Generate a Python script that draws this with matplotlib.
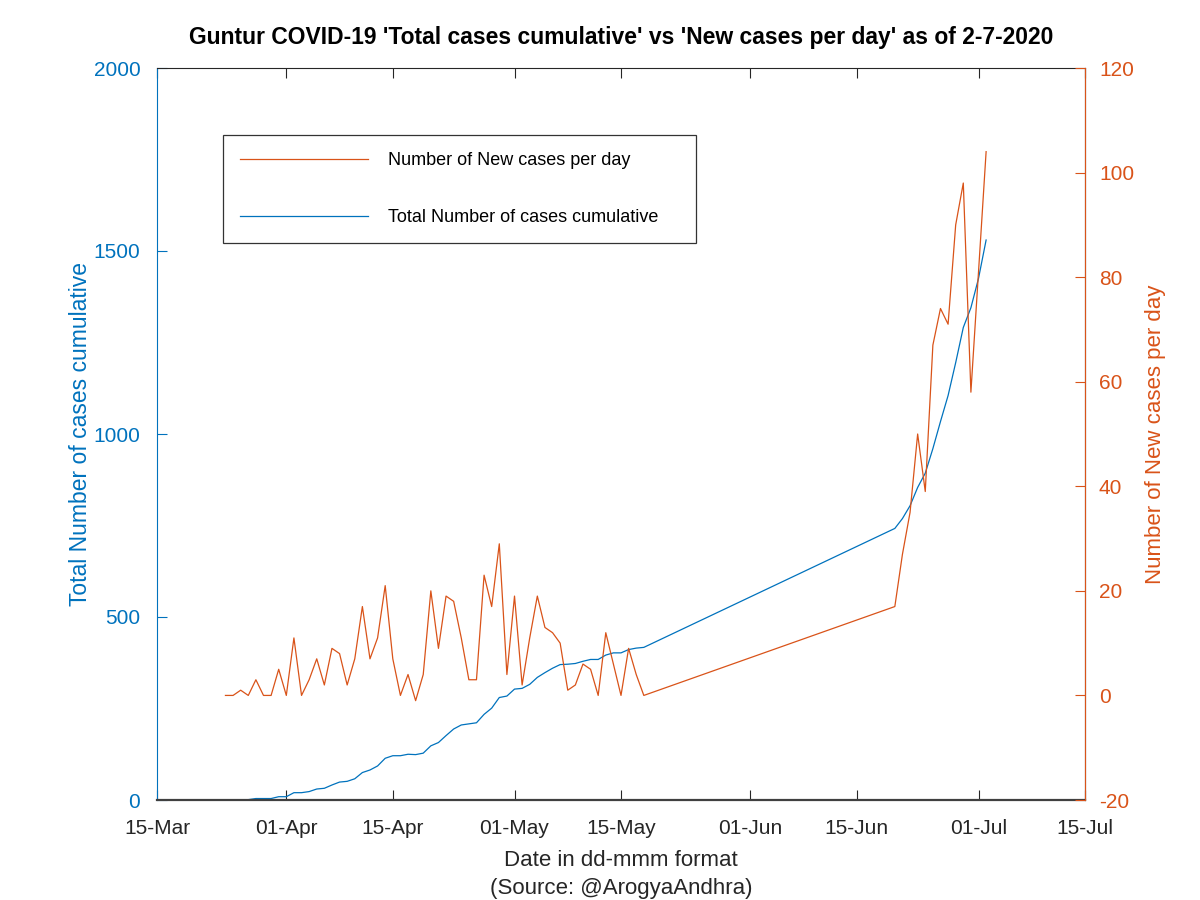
import numpy as np
import pandas as pd
import matplotlib
matplotlib.use('Agg')
import matplotlib.pyplot as plt
import matplotlib.dates as mdates

plt.rcParams['font.family'] = ['Liberation Sans', 'DejaVu Sans']
plt.rcParams['axes.unicode_minus'] = False

# daily data (gap between 18-May and 20-Jun in the source)
dates = (list(pd.date_range('2020-03-24', '2020-05-18', freq='D')) +
         list(pd.date_range('2020-06-20', '2020-07-02', freq='D')))

new_cases = [0, 0, 1, 0, 3, 0, 0, 5,
             0, 11, 0, 3, 7, 2, 9, 8, 2, 7,
             17, 7, 11, 21, 7, 0, 4, -1, 4, 20,
             9, 19, 18, 11, 3, 3, 23, 17, 29, 4,
             19, 2, 11, 19, 13, 12, 10, 1, 2, 6,
             5, 0, 12, 6, 0, 9, 4, 0,
             17, 27, 35, 50, 39, 67, 74, 71, 90, 98, 58, 81, 104]

total_cases = [0, 0, 1, 1, 4, 4, 4, 9,
               9, 20, 20, 23, 30, 32, 41, 49, 51, 58,
               75, 82, 93, 114, 121, 121, 125, 124, 128, 148,
               157, 176, 194, 205, 208, 211, 234, 251, 280, 284,
               303, 305, 316, 335, 348, 360, 370, 371, 373, 379,
               384, 384, 396, 402, 402, 411, 415, 417,
               742, 769, 804, 854, 893, 960, 1034, 1105, 1195, 1291, 1345, 1425, 1530]

tick_dates = ['2020-03-15', '2020-04-01', '2020-04-15', '2020-05-01', '2020-05-15',
              '2020-06-01', '2020-06-15', '2020-07-01', '2020-07-15']

blue = '#0072BD'
orange = '#D95319'

fig = plt.figure(figsize=(12, 9), dpi=100)
ax = fig.add_axes([157/1200, 100/900, 928/1200, 732/900])
ax2 = ax.twinx()

l1, = ax.plot(dates, total_cases, color=blue, lw=0.9, label='Total Number of cases cumulative')
l2, = ax2.plot(dates, new_cases, color=orange, lw=0.9, label='Number of New cases per day')

ax.set_xlim(pd.Timestamp('2020-03-15'), pd.Timestamp('2020-07-15'))
ax.set_ylim(0, 2000)
ax2.set_ylim(-20, 120)
ax.set_yticks([0, 500, 1000, 1500, 2000])
ax2.set_yticks(np.arange(-20, 121, 20))
ax.set_xticks(pd.to_datetime(tick_dates))
ax.xaxis.set_major_formatter(mdates.DateFormatter('%d-%b'))

fs = 15
ax.tick_params(axis='x', direction='in', length=7, top=True, labelsize=fs, colors='#262626', pad=14)
ax.tick_params(axis='y', direction='in', length=7, colors=blue, labelsize=fs, pad=12)
ax2.tick_params(axis='y', direction='in', length=7, colors=orange, labelsize=fs, pad=10)

ax.spines['left'].set_color(blue)
ax.spines['bottom'].set_color('#404040')
ax.spines['bottom'].set_linewidth(1.6)
ax.spines['top'].set_color('#262626')
ax2.spines['right'].set_color(orange)
ax2.spines['left'].set_visible(False)
ax2.spines['top'].set_visible(False)
ax2.spines['bottom'].set_visible(False)

ax.set_ylabel('Total Number of cases cumulative', color=blue, fontsize=16.5, labelpad=1)
ax2.set_ylabel('Number of New cases per day', color=orange, fontsize=16, labelpad=8)
ax.set_xlabel('Date in dd-mmm format\n(Source: @ArogyaAndhra)', fontsize=16, color='#262626',
              labelpad=8, linespacing=1.45)
ax.set_title("Guntur COVID-19 'Total cases cumulative' vs 'New cases per day' as of 2-7-2020",
             fontsize=16.5, fontweight='bold', pad=17)

leg = ax2.legend(handles=[l2, l1], loc='upper left',
                 bbox_to_anchor=(0.0711, 0.5, 0.5097, 0.4085), mode='expand',
                 fontsize=13, frameon=True, fancybox=False, edgecolor='black',
                 handlelength=7.1, handletextpad=1.1, labelspacing=2.2,
                 borderpad=0.95, borderaxespad=0)
leg.get_frame().set_linewidth(0.9)

fig.savefig('out.png', dpi=100)
